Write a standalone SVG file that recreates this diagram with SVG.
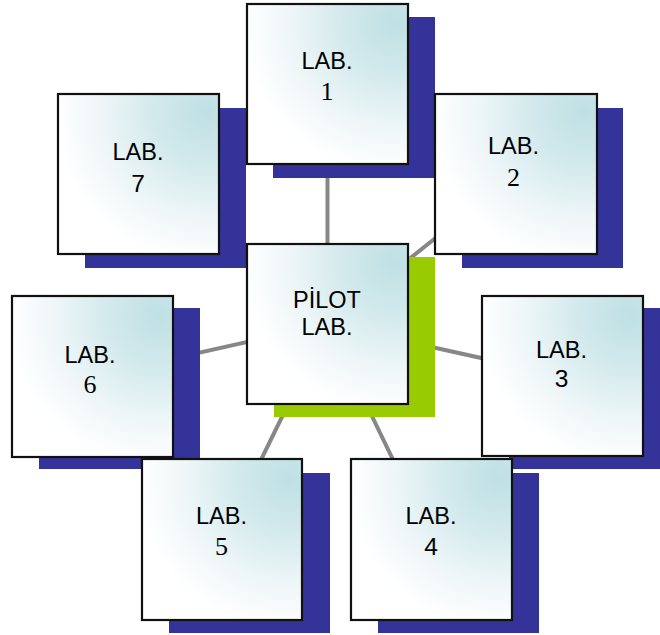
<svg xmlns="http://www.w3.org/2000/svg" width="660" height="635" viewBox="0 0 660 635">
<defs>
<radialGradient id="g" cx="0.92" cy="0.12" r="1.05" fx="0.92" fy="0.12">
<stop offset="0" stop-color="#bfe0e3"/>
<stop offset="0.3" stop-color="#d2e9ec"/>
<stop offset="0.65" stop-color="#f0f7f9"/>
<stop offset="0.9" stop-color="#ffffff"/>
</radialGradient>
</defs>
<style>
.sh{fill:#333399}
.gs{fill:#99cc00}
.bx{fill:url(#g);stroke:#111;stroke-width:2.2}
.ln{stroke:#878787;stroke-width:4;fill:none}
.s{font-family:"Liberation Sans",Arial,sans-serif;font-size:23.5px;fill:#000;text-anchor:middle}
.r{font-family:"Liberation Serif","Times New Roman",serif;font-size:26px;fill:#000;text-anchor:middle}
</style>
<g id="connectors">
<line class="ln" x1="327.5" y1="324" x2="327.5" y2="84"/>
<line class="ln" x1="327.5" y1="324" x2="516" y2="174"/>
<line class="ln" x1="327.5" y1="324" x2="562.5" y2="376"/>
<line class="ln" x1="327.5" y1="324" x2="431.5" y2="539.5"/>
<line class="ln" x1="327.5" y1="324" x2="222" y2="539.5"/>
<line class="ln" x1="327.5" y1="324" x2="92.5" y2="376.5"/>
<line class="ln" x1="327.5" y1="324" x2="138.5" y2="174"/>
</g>
<g id="node7">
<rect class="sh" x="85" y="108" width="161" height="160"/>
<rect class="bx" x="58" y="94" width="161" height="160"/>
<text class="s" x="138" y="160">LAB.</text>
<text class="s" x="138" y="192" style="font-size:24.5px">7</text>
</g>
<g id="node6">
<rect class="sh" x="39" y="308" width="161" height="161"/>
<rect class="bx" x="12" y="296" width="161" height="161"/>
<text class="s" x="90" y="363">LAB.</text>
<text class="r" x="90" y="393">6</text>
</g>
<g id="node1">
<rect class="sh" x="273" y="17" width="162" height="161"/>
<rect class="bx" x="247" y="4" width="161" height="160"/>
<text class="s" x="327" y="69">LAB.</text>
<text class="r" x="327" y="100">1</text>
</g>
<g id="node2">
<rect class="sh" x="462" y="108" width="161" height="160"/>
<rect class="bx" x="435" y="94" width="162" height="160"/>
<text class="s" x="513.5" y="154">LAB.</text>
<text class="r" x="513.5" y="186">2</text>
</g>
<g id="node3">
<rect class="sh" x="509" y="308" width="161" height="161"/>
<rect class="bx" x="482" y="296" width="161" height="160"/>
<text class="s" x="561.5" y="358">LAB.</text>
<text class="s" x="561.5" y="387" style="font-size:24.5px">3</text>
</g>
<g id="node4">
<rect class="sh" x="378" y="473" width="161" height="160"/>
<rect class="bx" x="351" y="459" width="161" height="161"/>
<text class="s" x="431" y="524">LAB.</text>
<text class="s" x="431" y="555" style="font-size:24.5px">4</text>
</g>
<g id="node5">
<rect class="sh" x="169" y="473" width="161" height="160"/>
<rect class="bx" x="142" y="459" width="160" height="161"/>
<text class="s" x="221.5" y="524">LAB.</text>
<text class="r" x="221.5" y="555">5</text>
</g>
<g id="center">
<rect class="gs" x="274" y="257" width="161" height="160"/>
<rect class="bx" x="247" y="244" width="161" height="160"/>
<text class="s" x="327" y="308">PİLOT</text>
<text class="s" x="327" y="335">LAB.</text>
</g>
</svg>
